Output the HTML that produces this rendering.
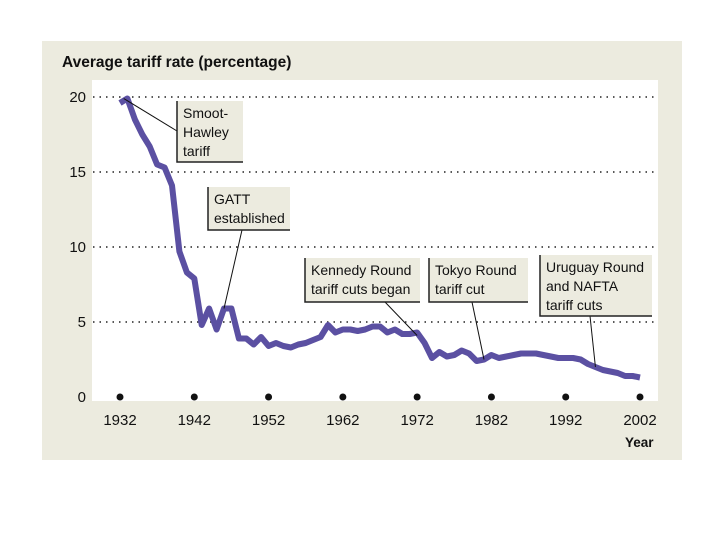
<!DOCTYPE html>
<html><head><meta charset="utf-8"><style>
html,body{margin:0;padding:0;background:#fff;width:720px;height:540px;overflow:hidden}
svg{display:block;font-family:"Liberation Sans",sans-serif}
</style></head><body>
<svg width="720" height="540">
<rect x="42" y="41" width="640" height="419" fill="#ecebdf"/>
<rect x="92" y="80" width="566" height="321" fill="#ffffff"/>
<text x="62" y="67" font-size="15.5" font-weight="bold" fill="#111">Average tariff rate (percentage)</text>
<text x="625" y="447" font-size="13.5" font-weight="bold" fill="#111">Year</text>
<g id="grid"></g><g id="ylab"></g><g id="xlab"></g>
<path id="series" fill="none" stroke="#5b50a2" stroke-width="6" stroke-linejoin="round"/>
<g id="notes"></g>
</svg>
<script>
const years=[1932,1933,1934,1935,1936,1937,1938,1939,1940,1941,1942,1943,1944,1945,1946,1947,1948,1949,1950,1951,1952,1953,1954,1955,1956,1957,1958,1959,1960,1961,1962,1963,1964,1965,1966,1967,1968,1969,1970,1971,1972,1973,1974,1975,1976,1977,1978,1979,1980,1981,1982,1983,1984,1985,1986,1987,1988,1989,1990,1991,1992,1993,1994,1995,1996,1997,1998,1999,2000,2001,2002];
const rates=[19.6,19.9,18.5,17.5,16.7,15.5,15.3,14.1,9.7,8.3,7.9,4.8,5.9,4.5,5.9,5.9,3.9,3.9,3.5,4.0,3.4,3.6,3.4,3.3,3.5,3.6,3.8,4.0,4.8,4.3,4.5,4.5,4.4,4.5,4.7,4.7,4.3,4.5,4.2,4.2,4.3,3.6,2.6,3.0,2.7,2.8,3.1,2.9,2.4,2.5,2.8,2.6,2.7,2.8,2.9,2.9,2.9,2.8,2.7,2.6,2.6,2.6,2.5,2.2,2.0,1.8,1.7,1.6,1.4,1.4,1.3];
const yTicks=[0,5,10,15,20];
const xTicks=[1932,1942,1952,1962,1972,1982,1992,2002];
const noteLabels=[["Smoot-","Hawley","tariff"],["GATT","established"],["Kennedy Round","tariff cuts began"],["Tokyo Round","tariff cut"],["Uruguay Round","and NAFTA","tariff cuts"]];
const noteYears=[1932.5,1946,1972,1981,1996];
const noteValues=[19.9,5.9,4.1,2.5,2.0];
const NS="http://www.w3.org/2000/svg";
const X=y=>120+(y-1932)*(520/70);
const Y=v=>397-v*15;
function mk(t,a,p){const e=document.createElementNS(NS,t);for(const k in a)e.setAttribute(k,a[k]);p.appendChild(e);return e;}
const grid=document.getElementById('grid'),ylab=document.getElementById('ylab'),xlab=document.getElementById('xlab');
yTicks.forEach(v=>{
 if(v>0){const l=mk('line',{x1:93,x2:658,y1:Y(v),y2:Y(v),stroke:'#222','stroke-width':1.5,'stroke-dasharray':'1.5 5'},grid);
 
 }
 const t=mk('text',{x:86,y:Y(v)+5,'text-anchor':'end','font-size':15,fill:'#111'},ylab);t.textContent=v;
 
 
});
xTicks.forEach(yr=>{
 const c=mk('circle',{cx:X(yr),cy:397,r:3.5,fill:'#111'},xlab);
 
 
 const t=mk('text',{x:X(yr),y:425,'text-anchor':'middle','font-size':15,fill:'#111'},xlab);t.textContent=yr;
 
 
});
document.getElementById('series').setAttribute('d',years.map((y,i)=>(i?'L':'M')+X(y).toFixed(1)+','+Y(rates[i]).toFixed(1)).join(''));
const boxes=[[177,101,66,61,177,131],[208,187,82,43,242,230],[305,258,115,44,385,302],[429,258,99,44,472,302],[540,255,112,61,590,316]];
const notes=document.getElementById('notes');
noteLabels.forEach((lines,i)=>{
 const [bx,by,bw,bh,ax,ay]=boxes[i];
 const g=mk('g',{},notes);
 
 
 mk('line',{x1:ax,y1:ay,x2:X(noteYears[i]),y2:Y(noteValues[i]),stroke:'#111','stroke-width':1},g);
 mk('rect',{x:bx,y:by,width:bw,height:bh,fill:'#ecebdf'},g);
 mk('path',{d:`M${bx},${by}V${by+bh}H${bx+bw}`,fill:'none',stroke:'#222','stroke-width':1.5},g);
 lines.forEach((s,j)=>{const t=mk('text',{x:bx+6,y:by+17+j*19,'font-size':14,fill:'#111'},g);t.textContent=s;});
});
</script>
</body></html>
